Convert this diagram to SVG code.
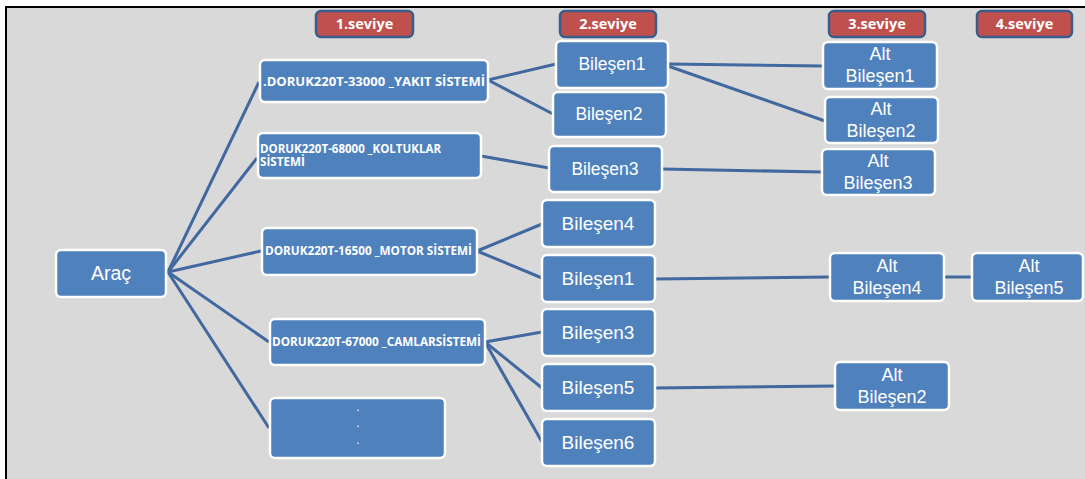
<svg xmlns="http://www.w3.org/2000/svg" width="1085" height="479" viewBox="0 0 1085 479">
<style>
.n{fill:#4f81bd;stroke:#fff;stroke-width:2.5}
.h{fill:#c0504d;stroke:#385d8a;stroke-width:2.5}
.ht{font-family:"Open Sans","Liberation Sans",sans-serif;font-weight:bold;font-size:14.5px;fill:#fff;text-anchor:middle}
.t{font-family:"Liberation Sans",Arial,sans-serif;fill:#fff;text-anchor:middle}
.s{font-size:17.5px}
.l{font-size:19px}
.a{font-size:18px}
.d{font-family:"Open Sans","Liberation Sans",sans-serif;font-weight:bold;fill:#fff}
.c path{fill:none;stroke:#41699f;stroke-width:3}
</style>
<rect x="0" y="0" width="1085" height="479" fill="#fff"/>
<rect x="6" y="7" width="1079" height="472" fill="#d9d9d9"/>
<path d="M6 479V7H1085" fill="none" stroke="#000" stroke-width="2"/>
<g id="headers">
<rect class="h" x="316" y="11" width="97" height="26" rx="5"/><text class="ht" x="364.5" y="29">1.seviye</text>
<rect class="h" x="560" y="11" width="96" height="26" rx="5"/><text class="ht" x="608" y="29">2.seviye</text>
<rect class="h" x="829" y="11" width="96" height="26" rx="5"/><text class="ht" x="877" y="29">3.seviye</text>
<rect class="h" x="977" y="11" width="95" height="26" rx="5"/><text class="ht" x="1024.5" y="29">4.seviye</text>
</g>
<g class="c" id="connectors">
<path d="M168 272L259 82"/>
<path d="M168 272L257 158"/>
<path d="M168 272L261 251"/>
<path d="M168 272L269 342"/>
<path d="M168 272L269 428"/>
<path d="M488 80L556 64"/>
<path d="M488 80L553 114"/>
<path d="M481 156L549 168"/>
<path d="M477 251L542 224"/>
<path d="M477 251L542 278"/>
<path d="M485 342L542 332"/>
<path d="M485 342L542 388"/>
<path d="M485 342L542 442"/>
<path d="M668 64L823 66"/>
<path d="M668 66L825 121"/>
<path d="M662 169L822 172"/>
<path d="M655 279L830 277"/>
<path d="M944 277L972 277"/>
<path d="M655 388L835 386"/>
</g>
<g id="arac"><rect class="n" x="56" y="250" width="110" height="47" rx="5"/><text class="t" x="111" y="280" font-size="19.5">Araç</text></g>
<g id="yakit"><rect class="n" x="260" y="60" width="228" height="42" rx="5"/><text class="d" x="263" y="86" font-size="12.5" textLength="222" lengthAdjust="spacingAndGlyphs">.DORUK220T-33000 _YAKIT SİSTEMİ</text></g>
<g id="koltuk"><rect class="n" x="258" y="133" width="223" height="45" rx="5"/><text class="d" x="260" y="153" font-size="11.5" textLength="181" lengthAdjust="spacingAndGlyphs">DORUK220T-68000 _KOLTUKLAR</text><text class="d" x="260" y="166" font-size="11.5" textLength="45" lengthAdjust="spacingAndGlyphs">SİSTEMİ</text></g>
<g id="motor"><rect class="n" x="262" y="228" width="215" height="47" rx="5"/><text class="d" x="265" y="255" font-size="11.5" textLength="207" lengthAdjust="spacingAndGlyphs">DORUK220T-16500 _MOTOR SİSTEMİ</text></g>
<g id="camlar"><rect class="n" x="270" y="319" width="215" height="46" rx="5"/><text class="d" x="272" y="346" font-size="11.5" textLength="209" lengthAdjust="spacingAndGlyphs">DORUK220T-67000 _CAMLARSİSTEMİ</text></g>
<g id="dots"><rect class="n" x="270" y="398" width="175" height="60" rx="5"/><text class="t" x="358" y="411" font-size="12">.</text><text class="t" x="358" y="427" font-size="12">.</text><text class="t" x="358" y="444" font-size="12">.</text></g>
<g id="b1"><rect class="n" x="556" y="41" width="112" height="47" rx="5"/><text class="t s" x="612" y="70">Bileşen1</text></g>
<g id="b2"><rect class="n" x="553" y="92" width="113" height="45" rx="5"/><text class="t s" x="609" y="120">Bileşen2</text></g>
<g id="b3"><rect class="n" x="549" y="146" width="113" height="46" rx="5"/><text class="t s" x="605" y="175">Bileşen3</text></g>
<g id="b4"><rect class="n" x="542" y="200" width="113" height="47" rx="5"/><text class="t l" x="598" y="230">Bileşen4</text></g>
<g id="b1b"><rect class="n" x="542" y="255" width="113" height="47" rx="5"/><text class="t l" x="598" y="285">Bileşen1</text></g>
<g id="b3b"><rect class="n" x="542" y="309" width="113" height="47" rx="5"/><text class="t l" x="598" y="339">Bileşen3</text></g>
<g id="b5"><rect class="n" x="542" y="364" width="113" height="47" rx="5"/><text class="t l" x="598" y="394">Bileşen5</text></g>
<g id="b6"><rect class="n" x="542" y="419" width="113" height="47" rx="5"/><text class="t l" x="598" y="449">Bileşen6</text></g>
<g id="ab1"><rect class="n" x="823" y="42" width="114" height="47" rx="5"/><text class="t a" x="880" y="60">Alt</text><text class="t a" x="880" y="82">Bileşen1</text></g>
<g id="ab2"><rect class="n" x="825" y="97" width="113" height="46" rx="5"/><text class="t a" x="881" y="115">Alt</text><text class="t a" x="881" y="137">Bileşen2</text></g>
<g id="ab3"><rect class="n" x="822" y="149" width="113" height="46" rx="5"/><text class="t a" x="878" y="167">Alt</text><text class="t a" x="878" y="189">Bileşen3</text></g>
<g id="ab4"><rect class="n" x="830" y="253" width="114" height="48" rx="5"/><text class="t a" x="887" y="272">Alt</text><text class="t a" x="887" y="294">Bileşen4</text></g>
<g id="ab5"><rect class="n" x="972" y="253" width="111" height="48" rx="5"/><text class="t a" x="1029" y="272">Alt</text><text class="t a" x="1029" y="294">Bileşen5</text></g>
<g id="ab2b"><rect class="n" x="835" y="362" width="114" height="48" rx="5"/><text class="t a" x="892" y="381">Alt</text><text class="t a" x="892" y="403">Bileşen2</text></g>
</svg>
